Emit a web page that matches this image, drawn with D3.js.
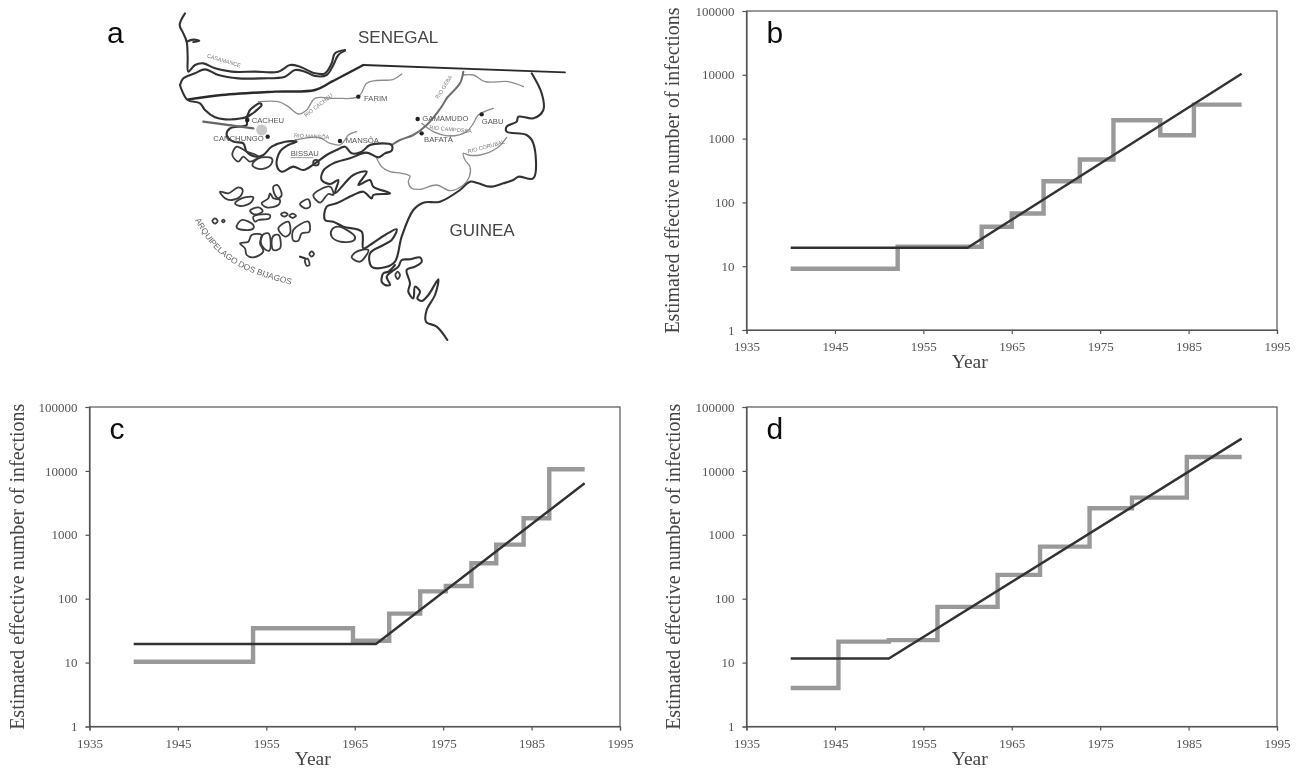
<!DOCTYPE html>
<html>
<head>
<meta charset="utf-8">
<script src="https://cdn.jsdelivr.net/npm/d3@7"></script>
<style>
html, body { margin: 0; padding: 0; background: #fff; }
svg { display: block; }
.tick text { font-family: "Liberation Serif", serif; font-size: 13px; fill: #555; }
.axis path, .axis line { stroke: #555; stroke-width: 1.2; }
</style>
</head>
<body>
<div id="chart"></div>
<script>
// tick labels
var yearTicks = [1935, 1945, 1955, 1965, 1975, 1985, 1995];
var countTicks = [1, 10, 100, 1000, 10000, 100000];

// panel b
var bStepYears = [1940, 1952.1, 1961.6, 1965, 1968.6, 1972.7, 1976.5, 1981.8, 1985.6, 1991];
var bStepValues = [9.1, 20.2, 41.5, 67, 215, 470, 1940, 1130, 3410, 3410];
var bFitYears = [1940, 1960, 1991];
var bFitValues = [19.5, 19.5, 10400];

// panel c
var cStepYears = [1940, 1953.5, 1964.8, 1968.9, 1972.4, 1975.3, 1978.2, 1981, 1984.1, 1987, 1991];
var cStepValues = [10.3, 34.5, 22, 58.5, 130, 158, 359, 703, 1815, 10600, 10600];
var cFitYears = [1940, 1967.4, 1991];
var cFitValues = [19.6, 19.6, 6400];

// panel d
var dStepYears = [1940, 1945.4, 1951.1, 1956.6, 1963.4, 1968.2, 1973.8, 1978.6, 1984.8, 1991];
var dStepValues = [4, 21.3, 22.5, 74.5, 236, 653, 2600, 3820, 16500, 16500];
var dFitYears = [1940, 1951.1, 1991];
var dFitValues = [11.6, 11.6, 32000];

var yTitle = "Estimated effective number of infections";

// map outlines, traced in a 1230 x 1050 map frame
var mapCoast = [
  [[45,40],[29,75],[40,100],[50,125],[53,170],[55,215],[75,195],[100,190],[135,205],[185,215],[255,215],[325,215],[360,195],[390,200],[435,220],[465,220],[485,190],[495,160],[525,150]],
  [[50,125],[70,119],[88,122],[70,126]],
  [[30,255],[40,235],[75,220],[105,208],[145,225],[205,235],[275,235],[345,230],[375,210],[405,215],[435,228],[470,225],[490,195],[505,165],[525,152]],
  [[30,255],[36,272],[53,300],[90,310],[105,330],[135,352],[165,358],[215,355],[230,350],[240,330],[270,310],[275,315],[255,335],[230,355],[230,375],[180,385],[170,405],[190,425],[220,430],[230,455],[260,470],[280,465],[305,440],[345,425],[380,425],[355,435],[330,455],[320,495],[335,515],[370,500],[400,510],[435,490],[470,465],[500,450],[525,440],[545,460],[575,455],[600,435],[665,435],[665,452],[645,460],[625,472],[590,458],[540,475],[490,490],[460,512],[455,540],[480,552],[505,540],[495,580],[550,525],[590,515],[565,555],[600,540],[610,560],[660,580],[610,585],[605,595],[580,575],[550,585],[500,610],[470,620],[465,660],[490,665],[520,680],[575,695],[580,745],[600,735],[645,705],[680,688],[665,720],[640,735],[600,760],[605,800],[645,802],[675,785],[695,710],[730,630],[760,608],[810,605],[870,570],[900,545],[925,550],[960,560],[1000,550],[1030,540],[1045,530],[1090,535],[1090,430],[1070,405],[1010,395],[1010,380],[1040,365],[1045,350],[1090,355],[1120,330],[1115,280],[1085,220]],
  [[675,795],[655,815],[640,820],[635,845],[645,855],[660,855],[650,830],[665,815],[685,800],[695,780],[720,778],[750,772],[755,785],[735,800],[710,810],[720,850],[715,875],[730,895],[735,860],[750,875],[742,895],[755,903],[775,885],[805,838],[795,885],[770,930],[768,965],[800,980],[832,1020]],
  [[390,770],[405,775]]
];
var mapBorderThick = [[55,298],[155,285],[315,275],[435,270],[485,245],[580,195]];
var mapBorderThin = [[580,195],[1185,217]];
var mapIslands = [
  [[150,575],[175,580],[205,562],[218,570],[210,590],[185,600],[165,595]],
  [[195,610],[215,595],[250,592],[240,610],[210,618]],
  [[275,610],[295,595],[300,580],[310,595],[330,600],[325,615],[290,622]],
  [[310,560],[322,555],[335,585],[325,595],[315,585]],
  [[240,632],[265,622],[278,632],[265,642],[250,642]],
  [[250,650],[300,645],[298,655],[265,660],[255,665]],
  [[200,682],[215,660],[250,675],[250,685],[225,690]],
  [[210,730],[235,725],[245,705],[275,705],[270,730],[280,755],[250,772],[230,765],[225,745]],
  [[278,705],[295,700],[302,730],[298,752],[282,745],[272,725]],
  [[310,708],[326,705],[330,745],[310,750],[305,735]],
  [[127,663],[135,655],[143,663],[135,671]],
  [[156,663],[160,659],[164,663],[160,667]],
  [[333,643],[343,637],[353,643],[343,650]],
  [[358,647],[368,641],[378,647],[368,654]],
  [[325,685],[355,665],[360,700],[345,710]],
  [[370,690],[415,665],[418,695],[395,700],[385,722],[370,722]],
  [[390,612],[415,598],[420,620],[405,625]],
  [[430,585],[480,560],[490,585],[475,582],[450,608]],
  [[418,762],[425,754],[432,762],[425,770]],
  [[405,780],[413,776],[418,795],[410,797]],
  [[545,772],[560,755],[595,750],[570,785]],
  [[485,690],[505,680],[555,710],[550,722],[510,725],[485,710]],
  [[187,465],[200,440],[230,455],[265,470],[240,485],[220,470],[205,485]],
  [[247,495],[265,475],[305,475],[305,490],[285,505],[260,505]],
  [[676,825],[683,815],[690,825],[683,837]]
];
var mapRivers = [
  [[695,222],[670,238],[615,242],[590,250],[565,290],[495,295],[435,295],[410,330],[385,342],[355,320],[325,305],[265,305]],
  [[375,420],[445,412],[480,430],[510,435],[525,420],[535,405],[560,395]],
  [[880,225],[910,225],[945,245],[1015,245],[1060,260]],
  [[755,370],[790,395],[840,408],[890,395],[910,370],[925,345],[970,325]],
  [[1010,412],[980,445],[930,465],[895,465],[880,460],[885,480],[900,500],[898,530],[880,555],[840,572],[800,555],[750,568],[725,565],[715,545],[720,528],[695,520],[660,515],[635,500],[620,475]]
];
var mapGeba = [[880,215],[870,250],[830,295],[815,320],[770,375],[730,405],[690,420],[665,435]];
var mapArrow = [[100,365],[250,385]];
var townDots = [[565,290],[232,360],[293,410],[510,423],[743,357],[755,400],[935,343]];
var townNames = ["FARIM", "CACHEU", "CANCHUNGO", "MANSÔA", "BISSAU", "GAMAMUDO", "BAFATÁ", "GABU"];
var townSpots = [[582,302],[245,369],[130,422],[527,429],[362,468],[757,364],[762,425],[935,371]];
var riverNames = ["CASAMANCE", "RIO CACHEU", "RIO MANSÔA", "RIO GEBA", "RIO CAMPOSSA", "RIO CORUBAL"];
var riverSpots = [[110,172,17],[408,352,-38],[372,412,3],[805,298,-58],[778,388,5],[895,460,-15]];

var svg = d3.select("#chart").append("svg")
    .attr("width", 1299)
    .attr("height", 770);

svg.append("filter").attr("id", "soft")
    .append("feGaussianBlur").attr("stdDeviation", 0.5);

var root = svg.append("g").attr("filter", "url(#soft)");

// ---------- map ----------
var mapX = d3.scaleLinear().domain([0, 1230]).range([170, 580]);
var mapY = d3.scaleLinear().domain([0, 1050]).range([0, 350]);
var mapLine = d3.line().x(d => mapX(d[0])).y(d => mapY(d[1])).curve(d3.curveCatmullRom.alpha(0.5));
var mapClosed = d3.line().x(d => mapX(d[0])).y(d => mapY(d[1])).curve(d3.curveCatmullRomClosed.alpha(0.5));

var map = root.append("g").attr("fill", "none").attr("stroke-linejoin", "round").attr("stroke-linecap", "round");

map.selectAll(".river").data(mapRivers).enter().append("path")
    .attr("d", mapLine).attr("stroke", "#8c8c8c").attr("stroke-width", 1.3);
map.append("path").attr("d", mapLine(mapGeba)).attr("stroke", "#6e6e6e").attr("stroke-width", 2);
map.selectAll(".coast").data(mapCoast).enter().append("path")
    .attr("d", mapLine).attr("stroke", "#333").attr("stroke-width", 2.1);
map.selectAll(".island").data(mapIslands).enter().append("path")
    .attr("d", mapClosed).attr("stroke", "#3c3c3c").attr("stroke-width", 1.8);
map.append("path").attr("d", mapLine(mapBorderThick)).attr("stroke", "#2c2c2c").attr("stroke-width", 2.4);
map.append("path").attr("d", mapLine(mapBorderThin)).attr("stroke", "#2c2c2c").attr("stroke-width", 1.8);
map.append("path").attr("d", mapLine(mapArrow)).attr("stroke", "#666").attr("stroke-width", 2.4);

map.append("circle").attr("cx", mapX(275)).attr("cy", mapY(390)).attr("r", 5.5)
    .attr("fill", "#c8c8c8").attr("stroke", "none");
map.selectAll(".town").data(townDots).enter().append("circle")
    .attr("cx", d => mapX(d[0])).attr("cy", d => mapY(d[1])).attr("r", 2.2)
    .attr("fill", "#222").attr("stroke", "none");
map.append("circle").attr("cx", mapX(438)).attr("cy", mapY(488)).attr("r", 2.8)
    .attr("fill", "none").attr("stroke", "#333").attr("stroke-width", 1.8);

var mapText = root.append("g").attr("font-family", "'Liberation Sans', sans-serif");

mapText.selectAll(".townName").data(townNames).enter().append("text")
    .attr("x", (d, i) => mapX(townSpots[i][0]))
    .attr("y", (d, i) => mapY(townSpots[i][1]))
    .attr("font-size", 7.7)
    .attr("fill", "#555")
    .text(d => d);
mapText.append("line")
    .attr("x1", mapX(362)).attr("x2", mapX(430))
    .attr("y1", mapY(473)).attr("y2", mapY(473))
    .attr("stroke", "#777").attr("stroke-width", 0.7);

mapText.selectAll(".riverName").data(riverNames).enter().append("text")
    .attr("transform", (d, i) => `translate(${mapX(riverSpots[i][0])},${mapY(riverSpots[i][1])}) rotate(${riverSpots[i][2]})`)
    .attr("font-size", 5.5)
    .attr("fill", "#777")
    .text(d => d);

var archipelagoArc = [[75,660],[120,730],[190,790],[280,830],[385,860]];
svg.append("defs").append("path").attr("id", "arc").attr("d", mapLine(archipelagoArc));
mapText.append("text")
    .attr("font-size", 8.4)
    .attr("fill", "#666")
    .append("textPath")
    .attr("href", "#arc")
    .text("ARQUIPELAGO DOS BIJAGOS");

mapText.append("text").attr("x", 358).attr("y", 43).attr("font-size", 17).attr("fill", "#444").text("SENEGAL");
mapText.append("text").attr("x", 449.5).attr("y", 236).attr("font-size", 17).attr("fill", "#444").text("GUINEA");
mapText.append("text").attr("x", 107).attr("y", 43).attr("font-size", 30).attr("fill", "#111").text("a");

// ---------- charts ----------
function stepPanel(letter, left, right, top, bottom, stepYears, stepValues, fitYears, fitValues, titleX, yearY) {
    var xScale = d3.scaleLinear().domain([1935, 1995]).range([left, right]);
    var yScale = d3.scaleLog().domain([1, 100000]).range([bottom, top]);

    var g = root.append("g");

    // frame
    g.append("rect")
        .attr("x", left).attr("y", top)
        .attr("width", right - left).attr("height", bottom - top)
        .attr("fill", "none").attr("stroke", "#555").attr("stroke-width", 1.2);

    g.append("g").attr("class", "axis")
        .attr("transform", `translate(0,${bottom})`)
        .call(d3.axisBottom(xScale).tickValues(yearTicks).tickFormat(d3.format("d")).tickSize(4).tickPadding(8));

    g.append("g").attr("class", "axis")
        .attr("transform", `translate(${left},0)`)
        .call(d3.axisLeft(yScale).tickValues(countTicks).tickFormat(d3.format("d")).tickSize(4).tickPadding(8));

    var stepLine = d3.line().x(d => xScale(d[0])).y(d => yScale(d[1])).curve(d3.curveStepAfter);
    var fitLine = d3.line().x(d => xScale(d[0])).y(d => yScale(d[1]));

    g.append("path")
        .attr("d", stepLine(d3.zip(stepYears, stepValues)))
        .attr("fill", "none").attr("stroke", "#999").attr("stroke-width", 4.4);

    g.append("path")
        .attr("d", fitLine(d3.zip(fitYears, fitValues)))
        .attr("fill", "none").attr("stroke", "#333").attr("stroke-width", 2.4);

    g.append("text")
        .attr("x", left + 20).attr("y", top + 32)
        .attr("font-family", "'Liberation Sans', sans-serif")
        .attr("font-size", 30).attr("fill", "#111")
        .text(letter);

    g.append("text")
        .attr("x", (left + right) / 2 - 42).attr("y", yearY)
        .attr("text-anchor", "middle")
        .attr("font-family", "'Liberation Serif', serif")
        .attr("font-size", 19.5).attr("fill", "#444")
        .text("Year");

    g.append("text")
        .attr("transform", `translate(${titleX},${(top + bottom) / 2}) rotate(-90)`)
        .attr("text-anchor", "middle")
        .attr("font-family", "'Liberation Serif', serif")
        .attr("font-size", 20).attr("fill", "#444")
        .text(yTitle);
}

stepPanel("b", 746.5, 1277, 11, 330, bStepYears, bStepValues, bFitYears, bFitValues, 679, 368);
stepPanel("c", 89.5, 620, 407, 726.5, cStepYears, cStepValues, cFitYears, cFitValues, 24, 765);
stepPanel("d", 746.5, 1277, 407, 726.5, dStepYears, dStepValues, dFitYears, dFitValues, 680, 765);
</script>
</body>
</html>
